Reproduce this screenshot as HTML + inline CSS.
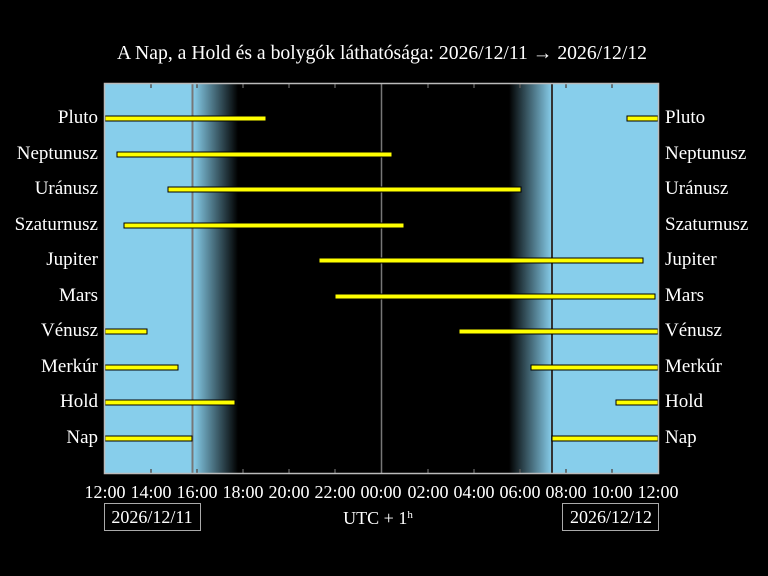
<!DOCTYPE html>
<html><head><meta charset="utf-8"><style>
html,body{margin:0;padding:0;background:#000;overflow:hidden;width:768px;height:576px;}
svg{display:block;}
svg text{font-family:"Liberation Serif",serif;fill:#fff;}
</style></head><body>
<svg width="768" height="576" xmlns="http://www.w3.org/2000/svg">
<defs>
<linearGradient id="ev" x1="0" x2="1" y1="0" y2="0">
<stop offset="0" stop-color="#87ceeb"/><stop offset="1" stop-color="#000"/></linearGradient>
<linearGradient id="mo" x1="0" x2="1" y1="0" y2="0">
<stop offset="0" stop-color="#000"/><stop offset="1" stop-color="#87ceeb"/></linearGradient>
</defs>
<rect x="0" y="0" width="768" height="576" fill="#000"/>
<text x="117" y="59" font-size="19.5" textLength="530" lengthAdjust="spacingAndGlyphs">A Nap, a Hold és a bolygók láthatósága: 2026/12/11 → 2026/12/12</text>
<rect x="105" y="84" width="88" height="389" fill="#87ceeb"/>
<rect x="193" y="84" width="45" height="389" fill="url(#ev)"/>
<rect x="509" y="84" width="43" height="389" fill="url(#mo)"/>
<rect x="552" y="84" width="106" height="389" fill="#87ceeb"/>
<g stroke="#777" stroke-width="2">
<line x1="192.5" y1="84" x2="192.5" y2="473"/>
<line x1="381.5" y1="84" x2="381.5" y2="473" stroke-width="1.5"/>
</g>
<line x1="552" y1="84" x2="552" y2="473" stroke="#333" stroke-width="2"/>
<g stroke="#555" stroke-width="1.5">
<line x1="151" y1="473" x2="151" y2="469"/><line x1="197" y1="473" x2="197" y2="469"/>
<line x1="243" y1="473" x2="243" y2="469"/><line x1="289" y1="473" x2="289" y2="469"/>
<line x1="335" y1="473" x2="335" y2="469"/><line x1="428" y1="473" x2="428" y2="469"/>
<line x1="474" y1="473" x2="474" y2="469"/><line x1="520" y1="473" x2="520" y2="469"/>
<line x1="566" y1="473" x2="566" y2="469"/><line x1="612" y1="473" x2="612" y2="469"/>
<line x1="151" y1="84" x2="151" y2="88"/><line x1="197" y1="84" x2="197" y2="88"/>
<line x1="243" y1="84" x2="243" y2="88"/><line x1="289" y1="84" x2="289" y2="88"/>
<line x1="335" y1="84" x2="335" y2="88"/><line x1="428" y1="84" x2="428" y2="88"/>
<line x1="474" y1="84" x2="474" y2="88"/><line x1="520" y1="84" x2="520" y2="88"/>
<line x1="566" y1="84" x2="566" y2="88"/><line x1="612" y1="84" x2="612" y2="88"/>
</g>
<g fill="#ffff00" stroke="#000" stroke-width="1">
<rect x="105" y="116" width="161" height="5"/><rect x="627" y="116" width="31" height="5"/>
<rect x="117" y="152" width="275" height="5"/>
<rect x="168" y="187" width="353" height="5"/>
<rect x="124" y="223" width="280" height="5"/>
<rect x="319" y="258" width="324" height="5"/>
<rect x="335" y="294" width="320" height="5"/>
<rect x="105" y="329" width="42" height="5"/><rect x="459" y="329" width="199" height="5"/>
<rect x="105" y="365" width="73" height="5"/><rect x="531" y="365" width="127" height="5"/>
<rect x="105" y="400" width="130" height="5"/><rect x="616" y="400" width="42" height="5"/>
<rect x="105" y="436" width="87" height="5"/><rect x="552" y="436" width="106" height="5"/>
</g>
<rect x="104.5" y="83.5" width="554" height="390" fill="none" stroke="#bbb" stroke-width="1.5"/>
<g font-size="19" text-anchor="end">
<text x="98" y="123">Pluto</text><text x="98" y="159">Neptunusz</text>
<text x="98" y="194">Uránusz</text><text x="98" y="230">Szaturnusz</text>
<text x="98" y="265">Jupiter</text><text x="98" y="301">Mars</text>
<text x="98" y="336">Vénusz</text><text x="98" y="372">Merkúr</text>
<text x="98" y="407">Hold</text><text x="98" y="443">Nap</text>
</g>
<g font-size="19">
<text x="665" y="123">Pluto</text><text x="665" y="159">Neptunusz</text>
<text x="665" y="194">Uránusz</text><text x="665" y="230">Szaturnusz</text>
<text x="665" y="265">Jupiter</text><text x="665" y="301">Mars</text>
<text x="665" y="336">Vénusz</text><text x="665" y="372">Merkúr</text>
<text x="665" y="407">Hold</text><text x="665" y="443">Nap</text>
</g>
<g font-size="18" text-anchor="middle">
<text x="105" y="498">12:00</text><text x="151" y="498">14:00</text><text x="197" y="498">16:00</text>
<text x="243" y="498">18:00</text><text x="289" y="498">20:00</text><text x="335" y="498">22:00</text>
<text x="381" y="498">00:00</text><text x="428" y="498">02:00</text><text x="474" y="498">04:00</text>
<text x="520" y="498">06:00</text><text x="566" y="498">08:00</text><text x="612" y="498">10:00</text>
<text x="658" y="498">12:00</text>
<text x="152" y="523">2026/12/11</text>
<text x="611" y="523">2026/12/12</text>
<text x="378" y="524">UTC + 1<tspan font-size="11" dy="-6">h</tspan></text>
</g>
<rect x="104.5" y="503.5" width="96" height="27" fill="none" stroke="#aaa" stroke-width="1"/>
<rect x="562.5" y="503.5" width="96" height="27" fill="none" stroke="#aaa" stroke-width="1"/>
</svg>
</body></html>
